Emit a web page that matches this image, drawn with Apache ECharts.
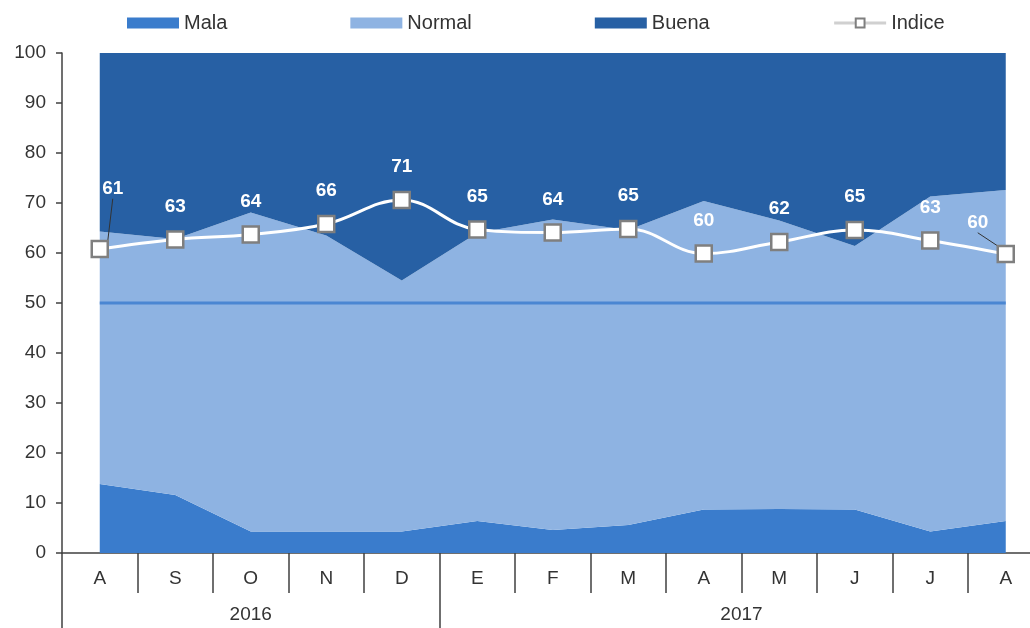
<!DOCTYPE html>
<html>
<head>
<meta charset="utf-8">
<script src="https://cdn.jsdelivr.net/npm/echarts@6/dist/echarts.min.js"></script>
<style>
html,body{margin:0;padding:0;background:#fff;overflow:hidden;}
#chart{width:1044px;height:628px;}
</style>
</head>
<body>
<div id="chart"></div>
<script>
// ---- data ----
const months = ['A','S','O','N','D','E','F','M','A','M','J','J','A'];
const years = ['2016','2017'];
const yearSpans = [5, 8]; // months per year
const mala   = [13.8, 11.6, 4.3, 4.3, 4.3, 6.4, 4.6, 5.6, 8.7, 8.8, 8.7, 4.3, 6.4];
const normal = [50.5, 51.2, 63.8, 59.2, 50.2, 57.6, 62.1, 59.0, 61.7, 57.7, 52.7, 67.0, 66.2];
const buena  = [35.7, 37.2, 31.9, 36.5, 45.5, 36.0, 33.3, 35.4, 29.6, 33.5, 38.6, 28.7, 27.4];
const indice = [60.8, 62.7, 63.7, 65.8, 70.6, 64.7, 64.1, 64.8, 59.9, 62.2, 64.6, 62.5, 59.8];
const refLevel = [50, 50, 50, 50, 50, 50, 50, 50, 50, 50, 50, 50, 50];
const yTicks = {min: 0, max: 100, interval: 10};

// ---- build year axis (half-month positions) ----
const yearSlots = [];
const yearTickIdx = [0];
const yearLabelIdx = [];
let pos = 0;
for (let i = 0; i < years.length; i++) {
  const n = yearSpans[i] * 2;
  yearLabelIdx.push(pos + n / 2);
  pos += n;
  yearTickIdx.push(pos);
}
for (let i = 0; i <= pos; i++) {
  const k = yearLabelIdx.indexOf(i);
  yearSlots.push(k >= 0 ? years[k] : '');
}

const FONT = 'Liberation Sans, Arial, sans-serif';
const C_MALA = '#3a7ccc', C_NORMAL = '#8eb3e2', C_BUENA = '#2760a4';

const lastIdx = indice.length - 1;
const indiceData = indice.map((v, i) => {
  const item = {value: v};
  if (i === 0 || i === lastIdx) {
    item.labelLine = {show: true, lineStyle: {color: '#333', width: 1}};
  }
  return item;
});

const chart = echarts.init(document.getElementById('chart'), null, {renderer: 'canvas'});
chart.setOption({
  animation: false,
  backgroundColor: '#fff',
  textStyle: {fontFamily: FONT},
  legend: {
    top: 8,
    left: 122,
    itemWidth: 52,
    itemHeight: 11,
    itemGap: 123,
    textStyle: {fontSize: 20, color: '#333', fontFamily: FONT},
    data: [
      {name: 'Mala', icon: 'rect'},
      {name: 'Normal', icon: 'rect'},
      {name: 'Buena', icon: 'rect'},
      {name: 'Indice', lineStyle: {color: '#d0d0d0', width: 3}}
    ]
  },
  grid: {left: 62, top: 53, right: 0.5, bottom: 75, containLabel: false},
  xAxis: [
    {
      type: 'category',
      data: months,
      boundaryGap: true,
      axisLine: {lineStyle: {color: '#404040', width: 1.5}},
      axisTick: {show: true, interval: 0, length: 40, lineStyle: {color: '#404040', width: 1.5}},
      axisLabel: {interval: 0, fontSize: 19, color: '#333', margin: 16, fontFamily: FONT},
      splitLine: {show: false}
    },
    {
      type: 'category',
      data: yearSlots,
      boundaryGap: false,
      position: 'bottom',
      offset: 40,
      axisLine: {show: false},
      axisTick: {show: true, length: 36, interval: (i) => yearTickIdx.indexOf(i) >= 0, lineStyle: {color: '#404040', width: 1.5}},
      axisLabel: {interval: (i) => yearLabelIdx.indexOf(i) >= 0, fontSize: 19, color: '#333', margin: 12, fontFamily: FONT},
      splitLine: {show: false}
    }
  ],
  yAxis: {
    type: 'value',
    min: yTicks.min,
    max: yTicks.max,
    interval: yTicks.interval,
    axisLine: {show: true, lineStyle: {color: '#404040', width: 1.5}},
    axisTick: {show: true, length: 6, lineStyle: {color: '#404040', width: 1.5}},
    axisLabel: {fontSize: 19, color: '#333', margin: 16, fontFamily: FONT},
    splitLine: {show: false}
  },
  series: [
    {
      name: 'Mala', type: 'line', stack: 'total', data: mala,
      symbol: 'none', lineStyle: {width: 0}, itemStyle: {color: C_MALA},
      areaStyle: {color: C_MALA, opacity: 1}, z: 1
    },
    {
      name: 'Normal', type: 'line', stack: 'total', data: normal,
      symbol: 'none', lineStyle: {width: 0}, itemStyle: {color: C_NORMAL},
      areaStyle: {color: C_NORMAL, opacity: 1}, z: 1
    },
    {
      name: 'Buena', type: 'line', stack: 'total', data: buena,
      symbol: 'none', lineStyle: {width: 0}, itemStyle: {color: C_BUENA},
      areaStyle: {color: C_BUENA, opacity: 1}, z: 1
    },
    {
      name: 'ref', type: 'line', data: refLevel, symbol: 'none', silent: true,
      lineStyle: {color: '#4a86d2', width: 3}, itemStyle: {color: '#4a86d2'}, z: 2
    },
    {
      name: 'Indice', type: 'line', data: indiceData, smooth: 0.4,
      symbol: 'rect', symbolSize: 16, showAllSymbol: true,
      lineStyle: {color: '#ffffff', width: 3},
      itemStyle: {color: '#ffffff', borderColor: '#7f7f7f', borderWidth: 2.5},
      label: {
        show: true, position: 'top', distance: 14,
        color: '#ffffff', fontSize: 19, fontWeight: 'bold', fontFamily: FONT,
        formatter: (p) => String(Math.round(p.value))
      },
      labelLayout: (p) => {
        if (p.dataIndex === 0) return {dx: 13, dy: -27};
        if (p.dataIndex === lastIdx) return {dx: -28, dy: 2};
        return {};
      },
      z: 5
    }
  ]
});
</script>
</body>
</html>
